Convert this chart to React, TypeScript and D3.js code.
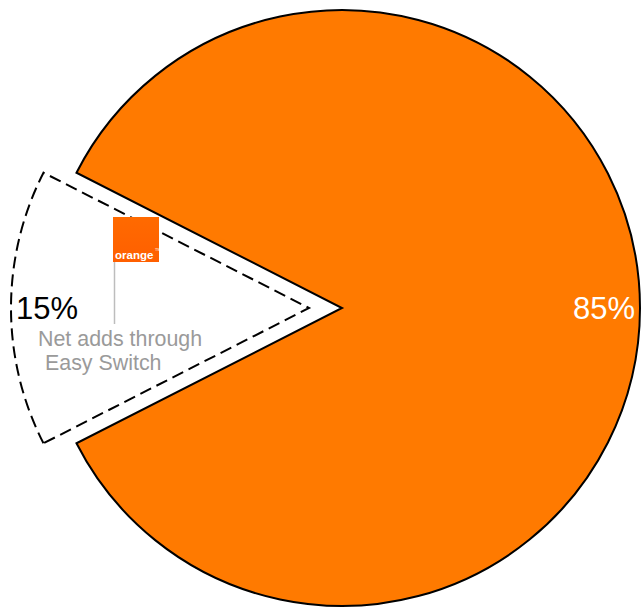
import React from "react";
import * as d3 from "d3";

const categories = ["Net adds through Easy Switch", "Other net adds"];
const values = [15, 85];
const valueLabels = ["15%", "85%"];
const sliceColors = ["#FFFFFF", "#FF7A00"];
const explode = [33, 0];
const labelLines = ["Net adds through", "Easy Switch"];

const W = 643;
const H = 609;
const cx = 342;
const cy = 308;
const R = 298;

export default function App() {
  const data = categories.map((c, i) => ({ c, v: values[i], i }));
  const startA = (243 * Math.PI) / 180;
  const pie = d3
    .pie<any>()
    .value((d) => d.v)
    .sort(null)
    .startAngle(startA)
    .endAngle(startA + 2 * Math.PI);
  const arcs = pie(data);
  const arc = d3.arc<any>().innerRadius(0).outerRadius(R);
  const labelArc = d3.arc<any>().innerRadius(262).outerRadius(262);

  return (
    <svg
      width={W}
      height={H}
      style={{ position: "absolute", left: 0, top: 0, fontFamily: "'Liberation Sans', Arial, sans-serif" }}
    >
      <defs>
        <linearGradient id="logoGrad" x1="0" y1="0" x2="0" y2="1">
          <stop offset="0" stopColor="#FF6A00" />
          <stop offset="1" stopColor="#FF5F00" />
        </linearGradient>
      </defs>
      {arcs.map((a, k) => {
        const mid = (a.startAngle + a.endAngle) / 2;
        const ox = Math.sin(mid) * explode[k];
        const oy = -Math.cos(mid) * explode[k];
        const [lx, ly] = labelArc.centroid(a);
        return (
          <g key={k} transform={`translate(${cx + ox},${cy + oy})`}>
            <path
              d={arc(a) as string}
              fill={sliceColors[k]}
              stroke="#000"
              strokeWidth={2}
              strokeDasharray={k === 0 ? "12,6" : undefined}
              strokeLinejoin="miter"
            />
            <text
              x={lx}
              y={ly}
              dy="0.36em"
              textAnchor="middle"
              fontSize={31}
              fill={k === 0 ? "#000" : "#fff"}
            >
              {valueLabels[k]}
            </text>
          </g>
        );
      })}
      {/* logo flag */}
      <line x1={114.5} y1={262} x2={114.5} y2={324} stroke="#bdbdbd" strokeWidth={1.5} />
      <rect x={113} y={217} width={46} height={45} fill="url(#logoGrad)" />
      <text x={115} y={259} fontSize={11.5} fontWeight="bold" fill="#fff">
        orange
      </text>
      <text x={155} y={251} fontSize={4} fill="#fff">
        TM
      </text>
      <text x={38} y={346} fontSize={21.4} fill="#9a9a9a">
        {labelLines[0]}
      </text>
      <text x={45} y={370} fontSize={21.4} fill="#9a9a9a">
        {labelLines[1]}
      </text>
    </svg>
  );
}
